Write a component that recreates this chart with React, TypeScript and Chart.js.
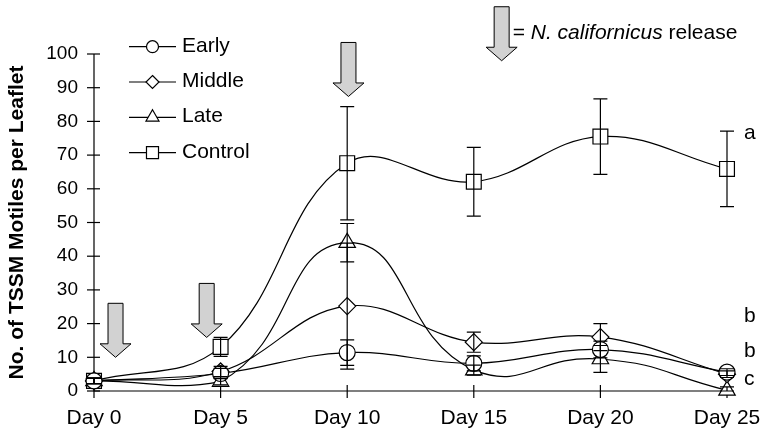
import React, { useEffect, useRef } from 'react';
import { Chart, registerables } from 'chart.js';

Chart.register(...registerables);

// ---- data ----
const days = ['Day 0', 'Day 5', 'Day 10', 'Day 15', 'Day 20', 'Day 25'];
const seriesNames = ['Early', 'Middle', 'Late', 'Control'];
const earlyValues = [3, 5.2, 11.4, 8.2, 12.3, 5.6];
const middleValues = [3, 5.8, 25.2, 14.5, 16, 5];
const lateValues = [3, 2.8, 44, 6.2, 9.5, 0.2];
const controlValues = [3, 13.1, 67.6, 62.1, 75.5, 65.9];
const earlyErrors = [0.8, 1.5, 3.8, 2.2, 2.5, 1];
const middleErrors = [0.8, 1.5, 18.7, 3, 4, 1];
const lateErrors = [0.8, 1, 5.7, 1.5, 4, 1];
const controlErrors = [0.8, 2.8, 16.8, 10.2, 11.2, 11.2];
const yMin = 0;
const yMax = 100;
const yStep = 10;
// release arrows: position along the day axis (category index) and tip value
const arrowX = [0.17, 0.89, 2.01, 3.22];
const arrowTipY = [10, 15.9, 87.4, 98];
const keyText = ['= ', 'N. californicus', ' release'];
const sigLetters = ['a', 'b', 'b', 'c'];
const sigLetterY = [76.6, 22.1, 11.7, 3.5];

const FONT = '"Liberation Sans", Arial, Helvetica, sans-serif';

function markerPath(ctx: CanvasRenderingContext2D, style: string, x: number, y: number, r: number) {
  ctx.beginPath();
  if (style === 'circle') {
    ctx.arc(x, y, r, 0, Math.PI * 2);
  } else if (style === 'rectRot') {
    ctx.moveTo(x, y - r);
    ctx.lineTo(x + r, y);
    ctx.lineTo(x, y + r);
    ctx.lineTo(x - r, y);
    ctx.closePath();
  } else if (style === 'triangle') {
    ctx.moveTo(x, y - r);
    ctx.lineTo(x + r * 0.866, y + r * 0.5);
    ctx.lineTo(x - r * 0.866, y + r * 0.5);
    ctx.closePath();
  } else {
    const h = r * Math.SQRT1_2;
    ctx.rect(x - h, y - h, 2 * h, 2 * h);
  }
  ctx.fillStyle = '#ffffff';
  ctx.fill();
  ctx.stroke();
}

const decorPlugin = {
  id: 'decor',
  beforeDatasetsDraw(chart: any) {
    const { ctx, chartArea, scales } = chart;
    const x = scales.x;
    const y = scales.y;
    ctx.save();
    ctx.strokeStyle = '#000';
    ctx.lineWidth = 1.2;
    ctx.beginPath();
    ctx.moveTo(chartArea.left, chartArea.top);
    ctx.lineTo(chartArea.left, chartArea.bottom);
    ctx.lineTo(chartArea.right + 6, chartArea.bottom);
    ctx.stroke();
    for (let v = yMin; v <= yMax; v += yStep) {
      const py = y.getPixelForValue(v);
      ctx.beginPath();
      ctx.moveTo(chartArea.left - 7, py);
      ctx.lineTo(chartArea.left + 6, py);
      ctx.stroke();
    }
    for (let i = 0; i < days.length; i++) {
      const px = x.getPixelForValue(i);
      ctx.beginPath();
      ctx.moveTo(px, chartArea.bottom - 6);
      ctx.lineTo(px, chartArea.bottom + 7);
      ctx.stroke();
    }
    ctx.restore();
  },
  afterDatasetsDraw(chart: any) {
    const { ctx, scales } = chart;
    const x = scales.x;
    const y = scales.y;
    ctx.save();
    ctx.strokeStyle = '#000';
    ctx.lineWidth = 1.2;
    chart.data.datasets.forEach((ds: any) => {
      ds.data.forEach((v: number, i: number) => {
        const e = ds.errors[i];
        const px = x.getPixelForValue(i);
        const top = y.getPixelForValue(v + e);
        const bot = y.getPixelForValue(Math.max(v - e, 0));
        ctx.beginPath();
        ctx.moveTo(px, top);
        ctx.lineTo(px, bot);
        ctx.moveTo(px - 7, top);
        ctx.lineTo(px + 7, top);
        ctx.moveTo(px - 7, bot);
        ctx.lineTo(px + 7, bot);
        ctx.stroke();
      });
    });
    ctx.restore();
  },
  afterDraw(chart: any) {
    const { ctx, chartArea, scales } = chart;
    const x = scales.x;
    const y = scales.y;
    ctx.save();
    // arrows
    ctx.strokeStyle = '#000';
    ctx.lineWidth = 1;
    ctx.fillStyle = '#d2d2d2';
    for (let i = 0; i < arrowX.length; i++) {
      const tx = x.getPixelForValue(arrowX[i]);
      const ty = y.getPixelForValue(arrowTipY[i]);
      const len = 54;
      const head = 13.5;
      const sw = 7.5;
      const hw = 15.5;
      ctx.beginPath();
      ctx.moveTo(tx - sw, ty - len);
      ctx.lineTo(tx + sw, ty - len);
      ctx.lineTo(tx + sw, ty - head);
      ctx.lineTo(tx + hw, ty - head);
      ctx.lineTo(tx, ty);
      ctx.lineTo(tx - hw, ty - head);
      ctx.lineTo(tx - sw, ty - head);
      ctx.closePath();
      ctx.fill();
      ctx.stroke();
    }
    // key text for arrow
    const kx0 = x.getPixelForValue(arrowX[3]) + 11;
    const ky = y.getPixelForValue(arrowTipY[3]) - 21.5;
    ctx.fillStyle = '#000';
    ctx.textBaseline = 'alphabetic';
    ctx.textAlign = 'left';
    let kx = kx0;
    keyText.forEach((t, i) => {
      ctx.font = (i === 1 ? 'italic ' : '') + `21px ${FONT}`;
      ctx.fillText(t, kx, ky);
      kx += ctx.measureText(t).width;
    });
    // legend
    ctx.font = `21px ${FONT}`;
    const legendSizes = [6, 6.5, 7.5, 8.5];
    chart.data.datasets.forEach((ds: any, i: number) => {
      const ly = 46.7 + i * 35.3;
      ctx.strokeStyle = '#000';
      ctx.lineWidth = 1.2;
      ctx.beginPath();
      ctx.moveTo(129, ly);
      ctx.lineTo(176, ly);
      ctx.stroke();
      markerPath(ctx, ds.pointStyle, 152.5, ly, legendSizes[i]);
      ctx.fillStyle = '#000';
      ctx.fillText(ds.label, 182, ly + 5);
    });
    // significance letters
    ctx.textAlign = 'left';
    ctx.textBaseline = 'middle';
    sigLetters.forEach((s, i) => {
      ctx.fillText(s, chartArea.right + 17, y.getPixelForValue(sigLetterY[i]));
    });
    ctx.restore();
  },
};

function makeDataset(label: string, data: number[], errors: number[], style: string, r: number, tension: number) {
  return {
    label,
    data,
    errors,
    borderColor: '#000',
    borderWidth: 1.2,
    backgroundColor: '#fff',
    pointStyle: style,
    pointRadius: r,
    pointBorderWidth: 1.2,
    pointBorderColor: '#000',
    pointBackgroundColor: '#fff',
    tension,
    fill: false,
    clip: false,
  };
}

export default function App() {
  const ref = useRef<HTMLCanvasElement | null>(null);
  useEffect(() => {
    if (!ref.current) return;
    const chart = new Chart(ref.current, {
      type: 'line',
      data: {
        labels: days,
        datasets: [
          makeDataset(seriesNames[0], earlyValues, earlyErrors, 'circle', 8, 0.4),
          makeDataset(seriesNames[1], middleValues, middleErrors, 'rectRot', 8.5, 0.4),
          makeDataset(seriesNames[2], lateValues, lateErrors, 'triangle', 9.5, 0.5),
          makeDataset(seriesNames[3], controlValues, controlErrors, 'rect', 10.5, 0.4),
        ] as any,
      },
      options: {
        animation: false,
        responsive: false,
        devicePixelRatio: 1,
        layout: { padding: { top: 54, right: 38, left: 0, bottom: 0 } },
        plugins: { legend: { display: false }, tooltip: { enabled: false } },
        scales: {
          x: {
            offset: false,
            grid: { display: false, drawTicks: false },
            border: { display: false },
            ticks: { color: '#000', font: { family: FONT, size: 21 }, padding: 15, maxRotation: 0 },
            afterFit: (s: any) => { s.height = 39; s.paddingLeft = 0; s.paddingRight = 0; },
          },
          y: {
            min: yMin,
            max: yMax,
            grid: { display: false, drawTicks: false },
            border: { display: false },
            ticks: { stepSize: yStep, color: '#000', font: { family: FONT, size: 19 }, padding: 16 },
            title: {
              display: true,
              text: 'No. of TSSM Motiles per Leaflet',
              color: '#000',
              font: { family: FONT, size: 21, weight: 'bold' },
              padding: { top: 5, bottom: 0 },
            },
            afterFit: (s: any) => { s.width = 94; s.paddingTop = 0; s.paddingBottom = 0; },
          },
        },
      } as any,
      plugins: [decorPlugin],
    });
    return () => chart.destroy();
  }, []);
  return (
    <div style={{ position: 'absolute', left: 0, top: 0, width: 765, height: 430, background: '#fff' }}>
      <canvas ref={ref} width={765} height={430} style={{ width: 765, height: 430, display: 'block' }} />
    </div>
  );
}
